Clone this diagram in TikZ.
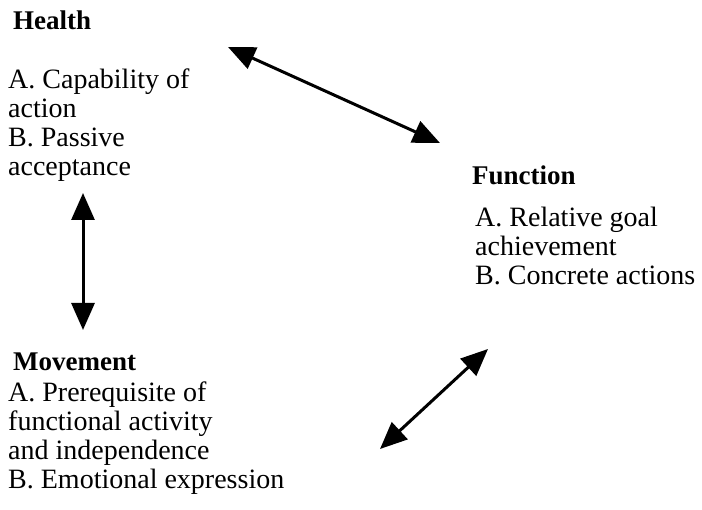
\documentclass[tikz,border=0pt]{standalone}
\usepackage{fontspec}
\setmainfont{Liberation Serif}
\usepackage{tikz}
\usetikzlibrary{arrows.meta}

\tikzset{
  head/.style={anchor=base west, inner sep=0pt, font=\fontsize{27}{29}\selectfont\bfseries},
  body/.style={anchor=base west, inner sep=0pt, align=left, font=\fontsize{28}{29}\selectfont},
  link/.style={{Triangle[length=27pt,width=23pt]}-{Triangle[length=27pt,width=23pt]}, line width=3pt}
}

\begin{document}
\begin{tikzpicture}[x=1pt,y=-1pt]
                \useasboundingbox (0,0) rectangle (702,510);

                %% Health (body placed by its last line)
                \node[head] (health) at (13,30) {Health};
                \node[body] (healthtxt) at (8,176) {A. Capability of\\action\\B. Passive\\acceptance};

                %% Function
                \node[head] (function) at (472,185) {Function};
                \node[body] (functiontxt) at (475,285) {A. Relative goal\\achievement\\B. Concrete actions};

                %% Movement
                \node[head] (movement) at (13,371) {Movement};
                \node[body] (movementtxt) at (8,489) {A. Prerequisite of\\functional activity\\and independence\\B. Emotional expression};

                %% arrow ends
                \coordinate (hf1) at (228,47);
                \coordinate (hf2) at (440,143);
                \coordinate (hm1) at (83,193);
                \coordinate (hm2) at (83,330);
                \coordinate (fm1) at (488,349);
                \coordinate (fm2) at (380,449);

                \draw[link] (hf1) -- (hf2);
                \draw[link] (hm1) -- (hm2);
                \draw[link] (fm1) -- (fm2);
\end{tikzpicture}
\end{document}
